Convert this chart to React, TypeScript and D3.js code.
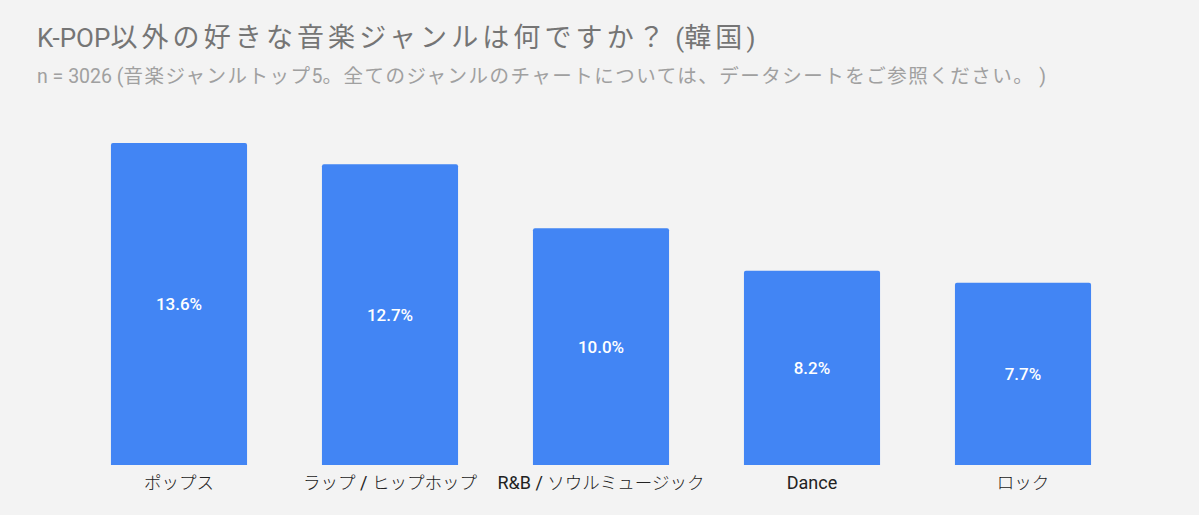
import React from 'react';
import * as d3 from 'd3';

const categories = ['ポップス', 'ラップ / ヒップホップ', 'R&B / ソウルミュージック', 'Dance', 'ロック'];
const values = [13.6, 12.7, 10.0, 8.2, 7.7];
const valueLabels = ['13.6%', '12.7%', '10.0%', '8.2%', '7.7%'];
const title = 'K-POP以外の好きな音楽ジャンルは何ですか？ (韓国)';
const subtitle = 'n = 3026 (音楽ジャンルトップ5。全てのジャンルのチャートについては、データシートをご参照ください。 )';

const W = 1199;
const H = 515;
const LATIN = 'Roboto, sans-serif';
const CJK = "'Noto Sans CJK JP', sans-serif";

const isCJK = (ch: string) => /[\u3000-\u30ff\u3400-\u9fff\uff00-\uffef]/.test(ch);

function runs(text: string) {
  const out: { t: string; cjk: boolean }[] = [];
  for (const ch of text) {
    const c = isCJK(ch);
    if (out.length && out[out.length - 1].cjk === c) out[out.length - 1].t += ch;
    else out.push({ t: ch, cjk: c });
  }
  return out;
}

function MixedText(props: {
  text: string; x: number; y: number; size: number; cjkSize: number; spacing: number; fill: string;
  anchor?: string; cjkWeight?: number;
}) {
  const { text, x, y, size, cjkSize, spacing, fill, anchor, cjkWeight } = props;
  return (
    <text x={x} y={y} fill={fill} fontFamily={LATIN} fontSize={size} textAnchor={anchor || 'start'} style={{ whiteSpace: 'pre' }}>
      {runs(text).map((r, i) => (
        <tspan
          key={i}
          fontFamily={r.cjk ? CJK : LATIN}
          fontSize={r.cjk ? cjkSize : size}
          letterSpacing={r.cjk ? spacing : 0}
          fontWeight={r.cjk && cjkWeight ? cjkWeight : 400}
        >
          {r.t}
        </tspan>
      ))}
    </text>
  );
}

export default function App() {
  const x = d3.scaleBand<string>().domain(categories).range([73.5, 1128.5]).paddingInner(0.355).paddingOuter(0.1775);
  const y = d3.scaleLinear().domain([0, 14]).range([465, 133.5]);
  const r = 2;
  return (
    <svg width={W} height={H} style={{ position: 'absolute', left: 0, top: 0 }}>
      <rect x={0} y={0} width={W} height={H} fill="#f3f3f3" />
      <MixedText text={title} x={37} y={47} size={26} cjkSize={27} spacing={4.1} fill="#757575" />
      <MixedText text={subtitle} x={37} y={83} size={19.5} cjkSize={19.5} spacing={1.5} fill="#a0a0a0" />
      {categories.map((c, i) => {
        const x0 = x(c)!;
        const w = x.bandwidth();
        const y0 = y(values[i]);
        const y1 = y(0);
        const p = `M${x0},${y1}V${y0 + r}Q${x0},${y0} ${x0 + r},${y0}H${x0 + w - r}Q${x0 + w},${y0} ${x0 + w},${y0 + r}V${y1}Z`;
        return (
          <g key={c}>
            <path d={p} fill="#4285f4" />
            <text x={x0 + w / 2} y={(y0 + y1) / 2} dy="0.35em" textAnchor="middle" fill="#ffffff" fontFamily={LATIN} fontSize={17} fontWeight={500}>
              {valueLabels[i]}
            </text>
            <MixedText text={c} x={x0 + w / 2} y={489} size={18} cjkSize={17.5} spacing={0} fill="#222222" anchor="middle" cjkWeight={300} />
          </g>
        );
      })}
    </svg>
  );
}
